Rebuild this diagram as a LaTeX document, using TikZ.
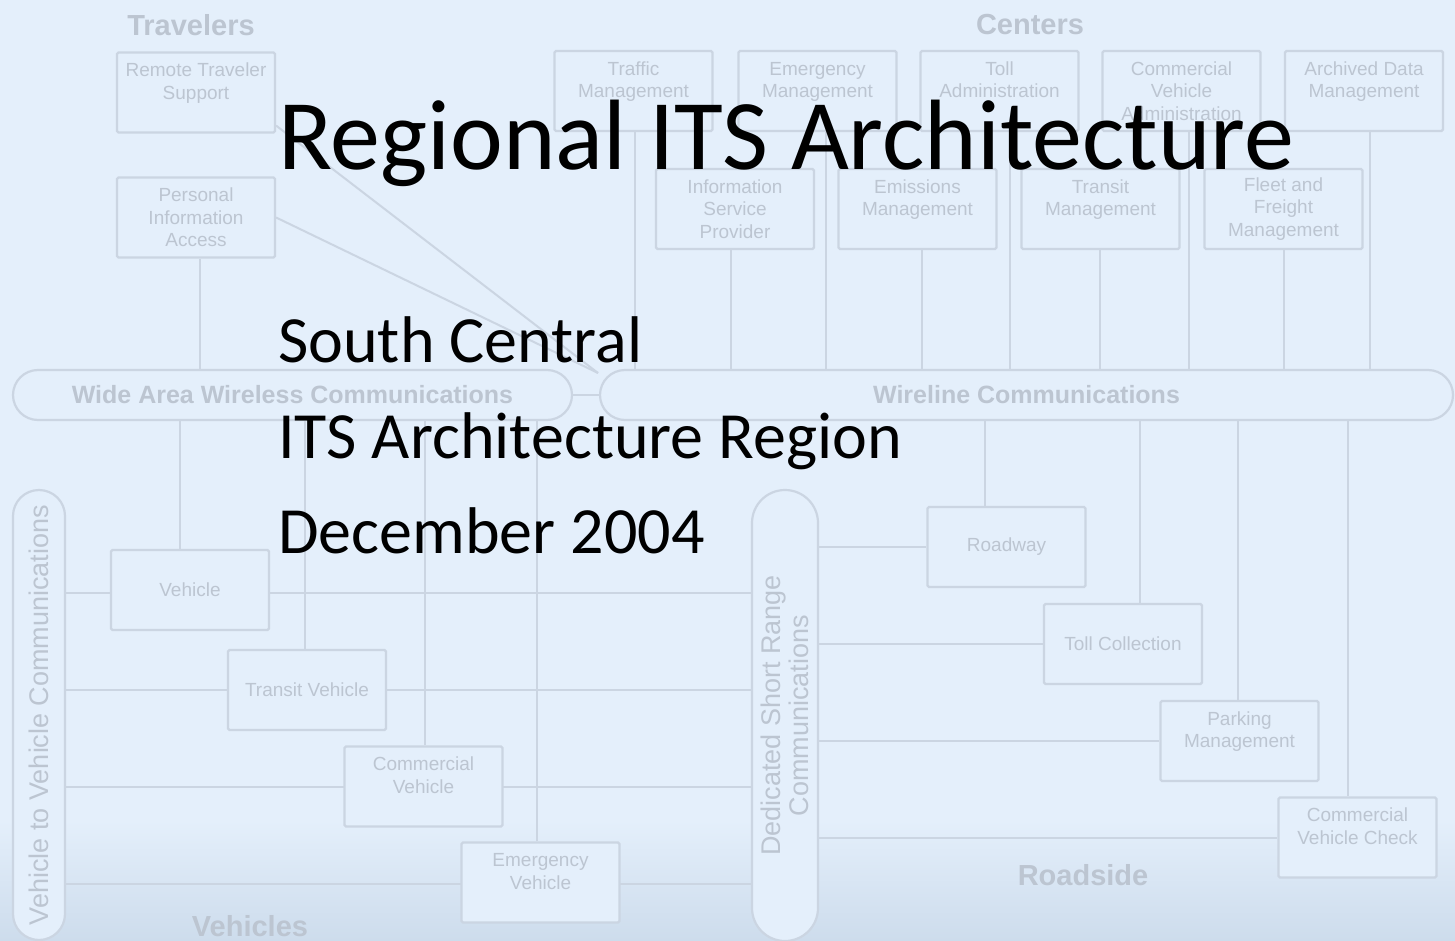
\documentclass[tikz,border=0pt]{standalone}
\usepackage{fontspec}
\setmainfont{Liberation Sans}
\newfontfamily\titlefont{Carlito}
\usetikzlibrary{backgrounds}
\definecolor{bgc}{RGB}{228,239,251}
\definecolor{bgb}{RGB}{205,220,236}
\definecolor{fline}{RGB}{203,213,226}
\definecolor{ftext}{RGB}{188,197,209}
\pgfdeclarelayer{bottom}
\pgfdeclarelayer{wires}
\pgfsetlayers{bottom,wires,main}
\begin{document}
\begin{tikzpicture}[x=1pt,y=-1pt,
  conn/.style={draw=fline,line width=2pt},
  ebox/.style={draw=fline,fill=bgc,line width=2.2pt,rounded corners=1.5pt,minimum width=158pt,minimum height=80pt,inner sep=1pt,align=center,text=ftext,font=\fontsize{19}{22.5}\selectfont},
  pill/.style={draw=fline,fill=bgc,line width=2.2pt,inner sep=0pt,text=ftext},
  buslbl/.style={font=\bfseries\fontsize{25}{28}\selectfont},
  sidelbl/.style={text=ftext,rotate=90,align=center,font=\fontsize{27}{28}\selectfont},
  grplbl/.style={text=ftext,font=\bfseries\fontsize{29}{32}\selectfont},
  ttl/.style={anchor=base west,inner sep=0pt,text=black,font=\titlefont\fontsize{100}{110}\selectfont},
  sub/.style={anchor=base west,inner sep=0pt,text=black,font=\titlefont\fontsize{66}{72}\selectfont}]

\useasboundingbox (0,0) rectangle (1455,941);
\begin{pgfonlayer}{bottom}
\fill[bgc] (0,0) rectangle (1455,941);
\shade[top color=bgc,bottom color=bgb] (0,820) rectangle (1455,941);
\end{pgfonlayer}

% ---- buses
\node[pill,minimum width=559pt,minimum height=50pt,rounded corners=25pt,buslbl] (waw) at (292.5,395) {Wide Area Wireless Communications};
\node[pill,minimum width=853pt,minimum height=50pt,rounded corners=25pt,buslbl] (wl) at (1026.5,395) {Wireline Communications};
\node[pill,minimum width=52pt,minimum height=450pt,rounded corners=26pt] (v2v) at (39,715) {};
\node[pill,minimum width=66pt,minimum height=451pt,rounded corners=33pt] (dsrc) at (785,715.5) {};

% ---- boxes
\node[ebox] (rts) at (196,92.5) {Remote Traveler\\Support\\\phantom{X}};
\node[ebox] (pia) at (196,217.5) {Personal\\Information\\Access};
\node[ebox] (tm)  at (633.5,91) {Traffic\\Management\\\phantom{X}};
\node[ebox] (em)  at (817.5,91) {Emergency\\Management\\\phantom{X}};
\node[ebox] (ta)  at (999.5,91) {Toll\\Administration\\\phantom{X}};
\node[ebox] (cva) at (1181.5,91) {Commercial\\Vehicle\\Administration};
\node[ebox] (adm) at (1364,91) {Archived Data\\Management\\\phantom{X}};
\node[ebox] (isp) at (735,209) {Information\\Service\\Provider};
\node[ebox] (emm) at (917.5,209) {Emissions\\Management\\\phantom{X}};
\node[ebox] (trm) at (1100.5,209) {Transit\\Management\\\phantom{X}};
\node[ebox] (ffm) at (1283.5,209) {Fleet and\\Freight\\Management};
\node[ebox] (veh) at (190,590) {Vehicle};
\node[ebox] (tv)  at (307,690) {Transit Vehicle};
\node[ebox] (cv)  at (423.5,786.5) {Commercial\\Vehicle\\\phantom{X}};
\node[ebox] (ev)  at (540.5,882.5) {Emergency\\Vehicle\\\phantom{X}};
\node[ebox] (rw)  at (1006.5,547) {Roadway};
\node[ebox] (tc)  at (1123,644) {Toll Collection};
\node[ebox] (pm)  at (1239.5,741) {Parking\\Management\\\phantom{X}};
\node[ebox] (cvc) at (1357.5,837.5) {Commercial\\Vehicle Check\\\phantom{X}};

\coordinate (J) at (598,373);

% ---- connectors (behind boxes and buses)
\begin{pgfonlayer}{wires}
% centers to wireline
\foreach \n/\dx in {tm/1.5, em/8.5, ta/10.5, cva/7.5, adm/6, isp/-4, emm/4.5, trm/-0.5, ffm/0.5}
  \draw[conn] ([xshift=\dx pt]\n.south) -- ([xshift=\dx pt]\n.south |- wl.north);
% travelers
\draw[conn] ([xshift=4pt]pia.south) -- ([xshift=4pt]pia.south |- waw.north);
\draw[conn] ([yshift=8pt]rts.south east) -- (J);
\draw[conn] (pia.east) -- (J);
\draw[conn] (waw.east) -- (wl.west);
% wide area wireless to vehicles
\foreach \n/\dx in {veh/-10, tv/-2, cv/1.5, ev/-3.5}
  \draw[conn] ([xshift=\dx pt]\n.north) -- ([xshift=\dx pt]\n.north |- waw.south);
% vehicle to vehicle / DSRC
\foreach \n/\dy in {veh/-3, tv/0, cv/-0.5, ev/-1.5}
  \draw[conn] ([yshift=\dy pt]v2v.east |- \n.west) -- ([yshift=\dy pt]dsrc.west |- \n.west);
% DSRC to roadside
\foreach \n in {rw, tc, pm, cvc}
  \draw[conn] (dsrc.east |- \n.west) -- (\n.west);
% wireline to roadside
\foreach \n/\dx in {rw/-21.5, tc/17, pm/-1.5, cvc/-9.5}
  \draw[conn] ([xshift=\dx pt]\n.north) -- ([xshift=\dx pt]\n.north |- wl.south);
\end{pgfonlayer}

% labels of groups
\node[grplbl] (gtrav) at (191,25) {Travelers};
\node[grplbl] (gcent) at (1030,25) {Centers};
\node[grplbl] (gveh) at (250,926) {Vehicles};
\node[grplbl] (groad) at (1083,875) {Roadside};

% side labels
\node[sidelbl] (v2vl) at (v2v.center) {Vehicle to Vehicle Communications};
\node[sidelbl] (dsrcl) at (dsrc.center) {Dedicated Short Range\\Communications};

% title
\node[ttl] (t1) at (278,170) {Regional ITS Architecture};
\node[sub] (t2) at (278,362) {South Central};
\node[sub] (t3) at (278,458) {ITS Architecture Region};
\node[sub] (t4) at (278,553) {December 2004};
\end{tikzpicture}
\end{document}
